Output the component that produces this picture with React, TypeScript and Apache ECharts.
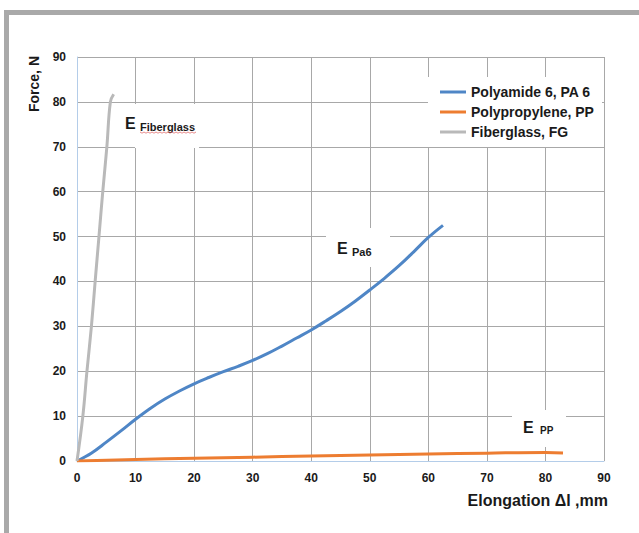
import React, { useEffect, useRef } from "react";
import * as echarts from "echarts";

const seriesNames = ["Polyamide 6, PA 6", "Polypropylene, PP", "Fiberglass, FG"];

const pa6X = [0, 2.5, 5, 7.5, 10, 12.5, 15, 17.5, 20, 22.5, 25, 27.5, 30, 32.5, 35, 37.5, 40, 42.5, 45, 47.5, 50, 52.5, 55, 57.5, 60, 62.5];
const pa6Y = [0, 1.8, 4.2, 6.7, 9.3, 11.7, 13.8, 15.6, 17.2, 18.6, 19.9, 21.1, 22.4, 23.9, 25.6, 27.4, 29.2, 31.2, 33.3, 35.6, 38.1, 40.7, 43.5, 46.6, 49.8, 52.5];

const ppX = [0, 10, 20, 30, 40, 50, 60, 70, 80, 83];
const ppY = [0, 0.35, 0.6, 0.85, 1.1, 1.35, 1.55, 1.75, 1.9, 1.8];

const fgX = [0, 1.0, 1.7, 2.46, 3.1, 3.75, 4.4, 5.1, 5.7, 6.26];
const fgY = [0, 10, 20, 30, 40, 50, 60, 70, 80, 81.7];

const xTicks = [0, 90, 10];
const yTicks = [0, 90, 10];

const colors = ["#4f86c6", "#ed7d31", "#b9b9b9"];

const zip = (xs: number[], ys: number[]) => xs.map((x, i) => [x, ys[i]]);

export default function App() {
  const ref = useRef<HTMLDivElement>(null);
  useEffect(() => {
    if (!ref.current) return;
    const chart = echarts.init(ref.current, undefined, { renderer: "svg" });
    const font = "'Liberation Sans', Arial, sans-serif";
    const zig: number[][] = [];
    for (let i = 0; i <= 28; i++) zig.push([140 + i * 2, 132 + (i % 2 === 0 ? 0 : 1.2)]);
    const option: any = {
      animation: false,
      backgroundColor: "#ffffff",
      textStyle: { fontFamily: font },
      grid: { left: 77, right: 35, top: 57, bottom: 72, containLabel: false },
      xAxis: {
        type: "value",
        min: xTicks[0],
        max: xTicks[1],
        interval: xTicks[2],
        axisLine: { show: true, lineStyle: { color: "#b4cde9", width: 1 } },
        axisTick: { show: false },
        axisLabel: { color: "#1a1a1a", fontWeight: "bold", fontSize: 12, margin: 11, fontFamily: font },
        splitLine: { show: true, lineStyle: { color: "#a8a8a8", width: 1 } },
      },
      yAxis: {
        type: "value",
        min: yTicks[0],
        max: yTicks[1],
        interval: yTicks[2],
        axisLine: { show: true, lineStyle: { color: "#b4cde9", width: 1 } },
        axisTick: { show: false },
        axisLabel: { color: "#1a1a1a", fontWeight: "bold", fontSize: 12, margin: 11, fontFamily: font },
        splitLine: { show: true, lineStyle: { color: "#a8a8a8", width: 1 } },
      },
      legend: {
        orient: "vertical",
        left: 440,
        top: 85,
        itemWidth: 26,
        itemHeight: 3,
        itemGap: 6,
        itemTextGap: 6,
        icon: "rect",
        padding: 0,
        z: 6,
        textStyle: { color: "#1a1a1a", fontWeight: "bold", fontSize: 14, lineHeight: 14, fontFamily: font },
        data: seriesNames,
      },
      series: [
        { name: seriesNames[0], type: "line", smooth: 0.4, showSymbol: false, data: zip(pa6X, pa6Y), lineStyle: { width: 3, color: colors[0] }, itemStyle: { color: colors[0] }, z: 3 },
        { name: seriesNames[1], type: "line", smooth: 0.4, showSymbol: false, data: zip(ppX, ppY), lineStyle: { width: 3, color: colors[1] }, itemStyle: { color: colors[1] }, z: 3 },
        { name: seriesNames[2], type: "line", smooth: 0.4, showSymbol: false, data: zip(fgX, fgY), lineStyle: { width: 3, color: colors[2] }, itemStyle: { color: colors[2] }, z: 3 },
      ],
      graphic: [
        { type: "rect", z: 10, shape: { x: 4, y: 10, width: 635, height: 5 }, style: { fill: "#a9a9a9" } },
        { type: "rect", z: 10, shape: { x: 4, y: 10, width: 5, height: 523 }, style: { fill: "#a9a9a9" } },
        { type: "rect", z: 2, shape: { x: 428, y: 77, width: 174, height: 70 }, style: { fill: "#ffffff" } },
        { type: "rect", z: 2, shape: { x: 135, y: 104, width: 64, height: 44 }, style: { fill: "#ffffff" } },
        { type: "rect", z: 2, shape: { x: 326, y: 228, width: 64, height: 39 }, style: { fill: "#ffffff" } },
        { type: "rect", z: 2, shape: { x: 512, y: 410, width: 54, height: 37 }, style: { fill: "#ffffff" } },
        { type: "text", z: 8, x: 125, y: 123, style: { text: "E", fill: "#1a1a1a", font: `bold 16px ${font}`, verticalAlign: "middle", align: "left" } },
        { type: "text", z: 8, x: 140, y: 127, style: { text: "Fiberglass", fill: "#1a1a1a", font: `bold 11px ${font}`, verticalAlign: "middle", align: "left" } },
        { type: "polyline", z: 8, shape: { points: zig }, style: { stroke: "#e27070", lineWidth: 0.8, fill: null } },
        { type: "text", z: 8, x: 337, y: 248, style: { text: "E", fill: "#1a1a1a", font: `bold 16px ${font}`, verticalAlign: "middle", align: "left" } },
        { type: "text", z: 8, x: 352, y: 252, style: { text: "Pa6", fill: "#1a1a1a", font: `bold 11px ${font}`, verticalAlign: "middle", align: "left" } },
        { type: "text", z: 8, x: 523, y: 427, style: { text: "E", fill: "#1a1a1a", font: `bold 16px ${font}`, verticalAlign: "middle", align: "left" } },
        { type: "text", z: 8, x: 540, y: 430, style: { text: "PP", fill: "#1a1a1a", font: `bold 10px ${font}`, verticalAlign: "middle", align: "left" } },
        { type: "text", z: 8, x: 34, y: 84, rotation: Math.PI / 2, style: { text: "Force, N", fill: "#1a1a1a", font: `bold 14px ${font}`, verticalAlign: "middle", align: "center" } },
        { type: "text", z: 8, x: 608, y: 500, style: { text: "Elongation Δl ,mm", fill: "#1a1a1a", font: `bold 16px ${font}`, verticalAlign: "middle", align: "right" } },
      ],
    };
    chart.setOption(option);
    return () => chart.dispose();
  }, []);
  return <div ref={ref} style={{ position: "fixed", left: 0, top: 0, width: 639, height: 533 }} />;
}
